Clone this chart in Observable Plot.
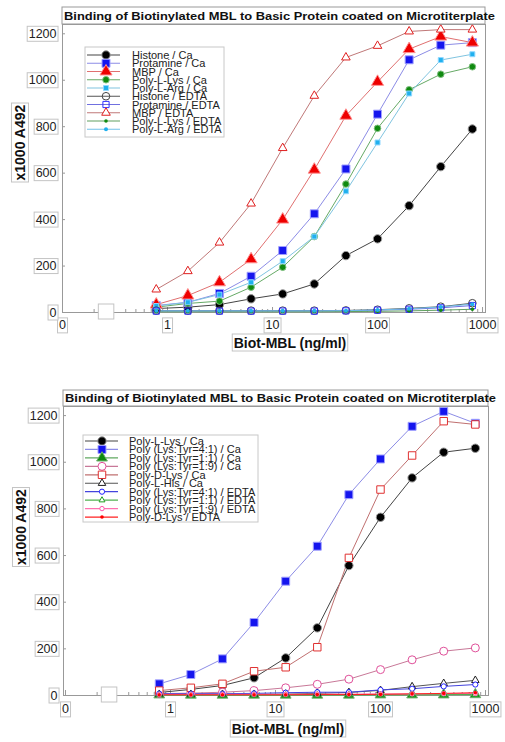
<!DOCTYPE html>
<html><head><meta charset="utf-8">
<script src="https://cdn.jsdelivr.net/npm/d3@7"></script>
<script src="https://cdn.jsdelivr.net/npm/@observablehq/plot@0.6"></script>
<style>
body{margin:0;background:#fff;font-family:"Liberation Sans",Arial,sans-serif;}
#c1{position:absolute;left:0;top:0;}
#c2{position:absolute;left:0;top:380px;}
</style></head><body><div id="c1"></div><div id="c2"></div>
<script>
// ---------- shared values ----------
const conc = [0.78125, 1.5625, 3.125, 6.25, 12.5, 25, 50, 100, 200, 400, 800];
const xTickValues = [0.1, 1, 10, 100, 1000];
const xTickLabels = ["0", "1", "10", "100", "1000"];
const xMinorTicks = [0.2,0.3,0.4,0.5,0.6,0.7,0.8,0.9,2,3,4,5,6,7,8,9,20,30,40,50,60,70,80,90,200,300,400,500,600,700,800,900];
const yTickValues = [0, 200, 400, 600, 800, 1000, 1200];
const yTickLabels = ["0", "200", "400", "600", "800", "1000", "1200"];
const breakMarkX = [0.26];
const titleText = "Binding of Biotinylated MBL to Basic Protein coated on Microtiterplate";
const xLabel = "Biot-MBL (ng/ml)";
const yLabel = "x1000 A492";

// ---------- top chart data ----------
const topNames = ["Histone / Ca","Protamine / Ca","MBP / Ca","Poly-L-Lys / Ca","Poly-L-Arg / Ca",
  "Histone / EDTA","Protamine / EDTA","MBP / EDTA","Poly-L-Lys / EDTA","Poly-L-Arg / EDTA"];
const histoneCa     = [17, 23, 34, 59, 80, 123, 245, 317, 460, 628, 790];
const protamineCa   = [30, 44, 82, 156, 267, 425, 618, 854, 1088, 1151, 1162];
const mbpCa         = [34, 73, 130, 229, 400, 615, 847, 993, 1134, 1188, 1162];
const polyLysCa     = [23, 39, 49, 109, 195, 327, 553, 793, 959, 1026, 1058];
const polyArgCa     = [28, 44, 77, 130, 221, 327, 522, 732, 943, 1087, 1112];
const histoneEdta   = [8, 8, 8, 8, 8, 8, 9, 12, 18, 25, 40];
const protamineEdta = [6, 6, 6, 6, 6, 6, 7, 10, 14, 20, 30];
const mbpEdta       = [99, 178, 301, 469, 708, 933, 1098, 1148, 1210, 1218, 1218];
const polyLysEdta   = [3, 3, 3, 3, 3, 3, 4, 5, 7, 10, 14];
const polyArgEdta   = [7, 7, 7, 7, 7, 7, 8, 11, 16, 24, 36];
const topValues = [histoneCa, protamineCa, mbpCa, polyLysCa, polyArgCa,
  histoneEdta, protamineEdta, mbpEdta, polyLysEdta, polyArgEdta];

// ---------- bottom chart data ----------
const botNames = ["Poly-L-Lys / Ca","Poly (Lys:Tyr=4:1) / Ca","Poly (Lys:Tyr=1:1) / Ca","Poly (Lys:Tyr=1:9) / Ca",
  "Poly-D-Lys / Ca","Poly-L-His / Ca","Poly (Lys:Tyr=4:1) / EDTA","Poly (Lys:Tyr=1:1) / EDTA",
  "Poly (Lys:Tyr=1:9) / EDTA","Poly-D-Lys / EDTA"];
const polyLLysCa   = [13, 26, 43, 76, 161, 290, 557, 764, 933, 1043, 1060];
const lysTyr41Ca   = [50, 90, 157, 313, 490, 640, 861, 1014, 1154, 1218, 1167];
const lysTyr11Ca   = [3, 2, 2, 2, 2, 2, 2, 3, 3, 3, 4];
const lysTyr19Ca   = [8, 10, 14, 21, 33, 48, 70, 111, 153, 190, 204];
const polyDLysCa   = [21, 33, 50, 104, 121, 207, 590, 883, 1029, 1176, 1162];
const polyLHisCa   = [5, 5, 5, 5, 6, 9, 13, 22, 38, 52, 65];
const lysTyr41Edta = [8, 8, 8, 9, 12, 14, 14, 24, 29, 39, 47];
const lysTyr11Edta = [2, 2, 2, 2, 2, 2, 3, 3, 3, 4, 4];
const lysTyr19Edta = [5, 5, 5, 5, 5, 6, 6, 7, 7, 8, 9];
const polyDLysEdta = [3, 3, 3, 3, 3, 4, 4, 5, 7, 9, 12];
const botValues = [polyLLysCa, lysTyr41Ca, lysTyr11Ca, lysTyr19Ca, polyDLysCa,
  polyLHisCa, lysTyr41Edta, lysTyr11Edta, lysTyr19Edta, polyDLysEdta];

// ---------- styles ----------
const topStyles = [
  {line:"#444", symbol:"circle",   fill:"#000",    stroke:"#999",    r:4.2},
  {line:"#8c8ce6", symbol:"square", fill:"#1515ee", stroke:"#a0a0ff", r:4.5},
  {line:"#e07070", symbol:"triangle", fill:"#ee0000", stroke:"#ff9090", r:4.5},
  {line:"#66aa66", symbol:"circle", fill:"#108a10", stroke:"#80c080", r:3.3},
  {line:"#80c4e0", symbol:"square", fill:"#20b0ee", stroke:"#90d8ff", r:2.8},
  {line:"#555", symbol:"circle",    fill:"none",    stroke:"#444",    r:3.8},
  {line:"#7070e0", symbol:"square", fill:"none",    stroke:"#3030ff", r:3.5},
  {line:"#c07878", symbol:"triangle", fill:"white", stroke:"#e02020", r:3.2},
  {line:"#60a060", symbol:"circle", fill:"#108a10", stroke:"none",    r:1.8},
  {line:"#70c0e8", symbol:"circle", fill:"#20b0ee", stroke:"none",    r:2}
];
const botStyles = [
  {line:"#444", symbol:"circle",    fill:"#000",    stroke:"#999",    r:4.2},
  {line:"#8c8ce6", symbol:"square", fill:"#1515ee", stroke:"#a0a0ff", r:4.5},
  {line:"#60a860", symbol:"triangle", fill:"#108a10", stroke:"#70b070", r:4},
  {line:"#c87898", symbol:"circle", fill:"white",   stroke:"#e0509a", r:4},
  {line:"#c07070", symbol:"square", fill:"white",   stroke:"#e03030", r:4.2},
  {line:"#555", symbol:"triangle",  fill:"white",   stroke:"#222",    r:2.8},
  {line:"#4444dd", symbol:"circle", fill:"white",   stroke:"#2020ff", r:2.6},
  {line:"#50b050", symbol:"triangle", fill:"white", stroke:"#20a020", r:2.2},
  {line:"#ff70b0", symbol:"circle", fill:"white",   stroke:"#ff55aa", r:2.2},
  {line:"#ff2020", symbol:"circle", fill:"#ff0000", stroke:"none",    r:1.8}
];

const NS = "http://www.w3.org/2000/svg";
const symbolMap = {circle: d3.symbolCircle, square: d3.symbolSquare, triangle: d3.symbolTriangle};

function makeChart(cfg) {
  const marks = [Plot.frame({stroke: "#999"})];
  // ticks (inward)
  marks.push(Plot.axisX({ticks: xMinorTicks, tickSize: -3, tickFormat: () => "", stroke: "#999", label: null}));
  marks.push(Plot.axisX({ticks: xTickValues, tickSize: -5, tickFormat: () => "", stroke: "#999", label: null}));
  marks.push(Plot.axisY({ticks: yTickValues, tickSize: -3, tickFormat: () => "", stroke: "#999", label: null}));
  // tick labels
  marks.push(Plot.axisX({ticks: xTickValues, tickSize: 0, tickPadding: cfg.xPad,
    tickFormat: d => xTickLabels[xTickValues.indexOf(d)], label: null, fill: "#222"}));
  marks.push(Plot.axisY({ticks: yTickValues, tickSize: 0, tickPadding: 6,
    tickFormat: d => yTickLabels[yTickValues.indexOf(d)], label: null, fill: "#222"}));
  // break box
  marks.push(Plot.text(breakMarkX, {x: d => d, frameAnchor: "bottom", dy: 3, text: () => "\u2002\u2002", fontSize: 12.5}));
  // axis labels
  marks.push(Plot.text([xLabel], {frameAnchor: "bottom", dx: cfg.xLabelDx, dy: cfg.xLabelDy, text: d => d,
    fontWeight: "bold", fontSize: 14, fill: "#111"}));
  marks.push(Plot.text([yLabel], {frameAnchor: "left", dx: -42, dy: cfg.yLabelDy, rotate: -90, text: d => d,
    fontWeight: "bold", fontSize: 14, fill: "#111"}));
  // series
  cfg.values.forEach((vals, i) => {
    const s = cfg.styles[i];
    const data = conc.map((c, j) => ({x: c, y: vals[j]}));
    marks.push(Plot.line(data, {x: "x", y: "y", stroke: s.line, strokeWidth: 1}));
  });
  cfg.values.forEach((vals, i) => {
    const s = cfg.styles[i];
    const data = conc.map((c, j) => ({x: c, y: vals[j]}));
    marks.push(Plot.dot(data, {x: "x", y: "y", symbol: s.symbol, r: s.r, fill: s.fill, stroke: s.stroke, strokeWidth: 1}));
  });
  const svg = Plot.plot({
    width: 505, height: cfg.height,
    marginLeft: cfg.ml, marginRight: cfg.mr, marginTop: cfg.mt, marginBottom: cfg.mb,
    x: {type: "log", domain: cfg.xDomain},
    y: {domain: cfg.yDomain},
    style: {fontFamily: "'Liberation Sans', Arial, sans-serif", fontSize: "12.5px", background: "white", overflow: "visible"},
    marks
  });
  document.getElementById(cfg.el).appendChild(svg);

  // boxes around tick labels and axis labels
  svg.querySelectorAll('g[aria-label$="tick label"] text, g[aria-label="text"] text').forEach(t => {
    if (!t.textContent.length) return;
    const b = t.getBBox();
    const r = document.createElementNS(NS, "rect");
    r.setAttribute("x", b.x - 1.5); r.setAttribute("y", b.y - 0.5);
    r.setAttribute("width", b.width + 3); r.setAttribute("height", b.height + 1);
    r.setAttribute("fill", "white"); r.setAttribute("stroke", "#c4c4c4"); r.setAttribute("stroke-width", 1);
    if (t.getAttribute("transform")) r.setAttribute("transform", t.getAttribute("transform"));
    t.parentNode.insertBefore(r, t);
  });

  const root = d3.select(svg);
  // title box
  const tg = root.append("g").attr("text-anchor", "start");
  tg.append("rect").attr("x", cfg.ml).attr("y", cfg.titleTop)
    .attr("width", 505 - cfg.ml - cfg.mr).attr("height", cfg.mt - cfg.titleTop)
    .attr("fill", "white").attr("stroke", "#999");
  tg.append("text").attr("x", cfg.ml + 2).attr("y", (cfg.titleTop + cfg.mt) / 2 + 4)
    .attr("text-anchor", "start")
    .attr("font-size", 11).attr("font-weight", "bold").attr("fill", "#111")
    .attr("textLength", 431).attr("lengthAdjust", "spacingAndGlyphs").text(titleText);

  // legend
  const L = cfg.legend;
  const lg = root.append("g").attr("text-anchor", "start");
  lg.append("rect").attr("x", L.x0).attr("y", L.y0).attr("width", L.x1 - L.x0).attr("height", L.y1 - L.y0)
    .attr("fill", "white").attr("stroke", "#c8c8c8");
  cfg.names.forEach((name, i) => {
    const s = cfg.styles[i];
    const y = L.row0 + i * L.rowH;
    lg.append("line").attr("x1", L.lx1).attr("x2", L.lx2).attr("y1", y).attr("y2", y)
      .attr("stroke", s.line).attr("stroke-width", 1.2);
    lg.append("path").attr("transform", `translate(${L.mx},${y})`)
      .attr("d", d3.symbol(symbolMap[s.symbol], Math.PI * s.r * s.r)())
      .attr("fill", s.fill).attr("stroke", s.stroke);
    lg.append("text").attr("x", L.tx).attr("y", y + 4).attr("text-anchor", "start")
      .attr("font-size", 11).attr("fill", "#222").text(name);
  });
}

makeChart({
  el: "c1", height: 370, ml: 62, mr: 20, mt: 24, mb: 58, titleTop: 7,
  xDomain: [0.1, 1067], yDomain: [0, 1240], xPad: 8, xLabelDx: 16, xLabelDy: 35, yLabelDy: 12,
  values: topValues, styles: topStyles, names: topNames,
  legend: {x0: 85, y0: 47, x1: 224, y1: 137, row0: 55, rowH: 8.25, lx1: 87, lx2: 120, mx: 106, tx: 132}
});
makeChart({
  el: "c2", height: 362, ml: 63, mr: 17, mt: 26, mb: 47, titleTop: 10,
  xDomain: [0.0957, 1068], yDomain: [0, 1239], xPad: 9, xLabelDx: 12, xLabelDy: 38, yLabelDy: 14,
  values: botValues, styles: botStyles, names: botNames,
  legend: {x0: 83, y0: 55, x1: 258, y1: 142, row0: 61, rowH: 8.45, lx1: 85, lx2: 118, mx: 102, tx: 129}
});
</script>
</body></html>
